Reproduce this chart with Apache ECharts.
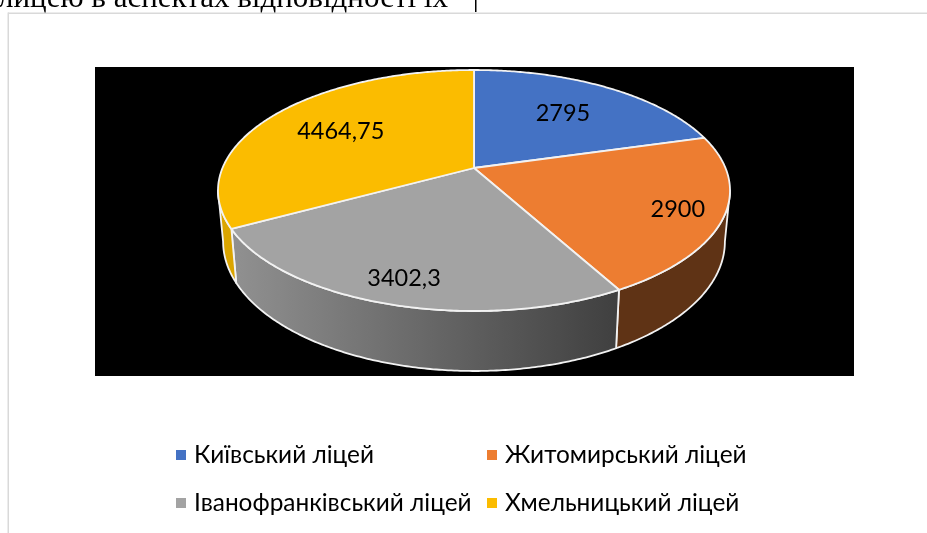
<!DOCTYPE html>
<html>
<head>
<meta charset="utf-8">
<style>
    html, body { margin: 0; padding: 0; background: #fff; }
    #chart { width: 927px; height: 533px; }
</style>
<script src="https://cdn.jsdelivr.net/npm/echarts@6/dist/echarts.min.js"></script>
</head>
<body>
<div id="chart"></div>
<script>
const schools = ['Київський ліцей', 'Житомирський ліцей', 'Іванофранківський ліцей', 'Хмельницький ліцей'];
const amounts = [2795, 2900, 3402.3, 4464.75];
const topColors = ['#4472C4', '#ED7D31', '#A3A3A3', '#FBBC00'];
const sideColors = ['#2A4678', '#5F3315', '#666666', '#DBA500'];

const legendFont = 'Lato, "Noto Sans", sans-serif';
const labelFont = 'Lato, "Noto Sans", sans-serif';

// tilted disc, drawn with a simple perspective so the front looks bigger
const disc = { x: 474, y: 168, a: 251.5, b: 116.3, c: 0.1867, bottomScale: 0.98 };
// where the rim stops being visible
const rimFrom = Math.PI - Math.acos(disc.c);
const rimTo = Math.PI + Math.acos(disc.c);

const total = amounts.reduce(function(sum, v) { return sum + v; }, 0);

function sliceAngles(index) {
    let before = 0;
    for (let i = 0; i < index; i++) {
        before += amounts[i];
    }
    return [before / total * 2 * Math.PI, (before + amounts[index]) / total * 2 * Math.PI];
}

function topPoint(angle, radius) {
    const u = Math.sin(angle) * radius;
    const v = -Math.cos(angle) * radius;
    const w = 1 - disc.c * v;
    return [disc.x + disc.a * u / w, disc.y + disc.b * v / w];
}

function bottomPoint(angle) {
    const p = topPoint(angle, 1);
    return [disc.x + (p[0] - disc.x) * disc.bottomScale, p[1] + 60 + (p[1] - 311) * 0.0732];
}

function arcAngles(from, to) {
    const list = [];
    const steps = Math.max(2, Math.ceil((to - from) / 0.01));
    for (let i = 0; i <= steps; i++) {
        list.push(from + (to - from) * i / steps);
    }
    return list;
}

function renderSlice(index, api) {
    const range = sliceAngles(index);
    const children = [];

    // rim under the front part of the slice
    const from = Math.max(range[0], rimFrom);
    const to = Math.min(range[1], rimTo);
    if (to > from) {
        const angles = arcAngles(from, to);
        const points = angles.map(function(a) { return topPoint(a, 1); })
            .concat(angles.slice().reverse().map(bottomPoint));
        let fill = sideColors[index];
        if (index === 2) {
            fill = new echarts.graphic.LinearGradient(0, 0, 1, 0, [
                { offset: 0, color: '#919191' },
                { offset: 1, color: '#3F3F3F' }
            ]);
        }
        children.push({
            type: 'polygon',
            shape: { points: points },
            style: { fill: fill, stroke: '#F2F2F2', lineWidth: 1.8, lineJoin: 'round' }
        });
    }

    // top face
    const topPoints = [[disc.x, disc.y]].concat(arcAngles(range[0], range[1]).map(function(a) {
        return topPoint(a, 1);
    }));
    children.push({
        type: 'polygon',
        shape: { points: topPoints },
        style: { fill: topColors[index], stroke: '#F2F2F2', lineWidth: 1.8, lineJoin: 'round' }
    });

    // value label, back slices sit closer to the centre
    const mid = (range[0] + range[1]) / 2;
    const front = -Math.cos(mid) > 0;
    const labelAt = topPoint(mid, front ? 0.83 : 0.65);
    children.push({
        type: 'text',
        z2: 10,
        style: {
            x: labelAt[0] - 1,
            y: labelAt[1] + (front ? 2 : 0),
            text: String(amounts[index]).replace('.', ','),
            align: 'center',
            verticalAlign: 'middle',
            fontSize: 23.5,
            fontFamily: labelFont,
            fill: '#000'
        }
    });

    return { type: 'group', children: children };
}

const chart = echarts.init(document.getElementById('chart'));

const option = {
    animation: false,
    backgroundColor: '#fff',
    graphic: [
        {
            type: 'text', left: -2, top: -17, silent: true,
            style: { text: 'лицею в аспектах відповідності їх', fontFamily: '"Liberation Serif", serif', fontSize: 31, fill: '#000' }
        },
        { type: 'rect', shape: { x: 475, y: 0, width: 1.5, height: 12 }, style: { fill: '#000' } },
        { type: 'rect', shape: { x: 8, y: 12.5, width: 919, height: 1.5 }, style: { fill: '#D9D9D9' } },
        { type: 'rect', shape: { x: 7.5, y: 12.5, width: 1.5, height: 521 }, style: { fill: '#D9D9D9' } },
        { type: 'rect', z: -1, shape: { x: 95, y: 67, width: 759, height: 309 }, style: { fill: '#000' } }
    ],
    legend: [
        {
            orient: 'vertical', left: 171, top: 438, itemGap: 24, itemWidth: 10, itemHeight: 10,
            icon: 'rect', selectedMode: false,
            textStyle: { fontSize: 24.4, fontFamily: legendFont, color: '#000', padding: [0, 0, 0, 3] },
            data: [schools[0], schools[2]]
        },
        {
            orient: 'vertical', left: 482, top: 438, itemGap: 24, itemWidth: 10, itemHeight: 10,
            icon: 'rect', selectedMode: false,
            textStyle: { fontSize: 24.4, fontFamily: legendFont, color: '#000', padding: [0, 0, 0, 3] },
            data: [schools[1], schools[3]]
        }
    ],
    series: schools.map(function(name, i) {
        return {
            type: 'custom',
            name: name,
            coordinateSystem: 'none',
            silent: true,
            z: 5,
            itemStyle: { color: topColors[i] },
            data: [amounts[i]],
            renderItem: function(params, api) {
                return renderSlice(i, api);
            }
        };
    })
};

chart.setOption(option);
</script>
</body>
</html>
